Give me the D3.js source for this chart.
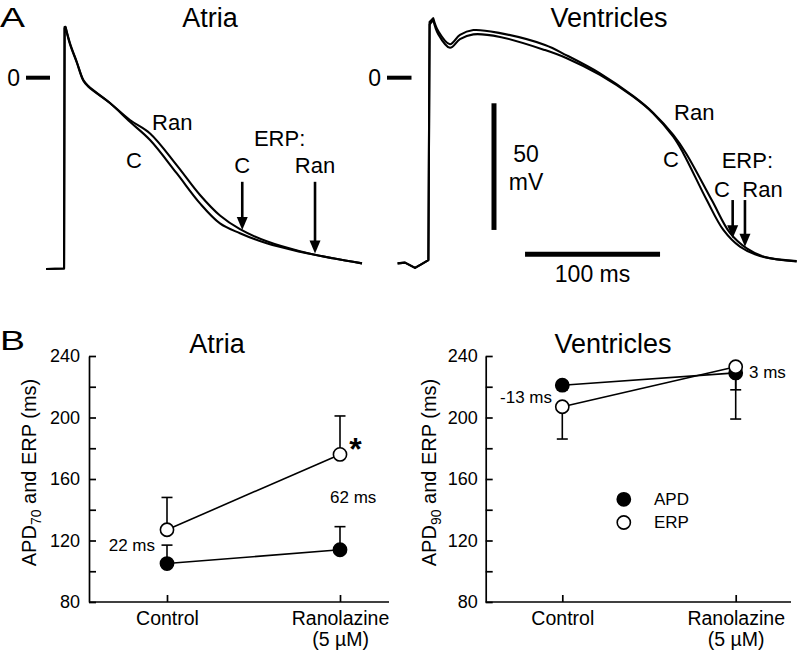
<!DOCTYPE html>
<html><head><meta charset="utf-8">
<script src="https://cdn.jsdelivr.net/npm/d3@7"></script>
<style>
body{margin:0;background:#fff}
svg{display:block;background:#fff}
text{font-family:"Liberation Sans",Arial,Helvetica,sans-serif;fill:#000}
</style>
</head><body>
<svg id="chart" width="800" height="652"></svg>
<script>
// ===== Panel A: action potential traces (time in ms from upstroke, voltage in mV) =====
const atriaCtrlT = [-14, -0.7, -0.3, 0.4, 3.7, 8.7, 13.6, 17.3, 33.3, 48.1, 63, 82.7, 100, 114.8, 129.6, 149.4, 174, 198.5, 220];
const atriaCtrlV = [-75.5, -75.3, 20, 20.1, 13.6, 6.3, -0.9, -3.3, -10, -17.4, -24.6, -37.7, -49.6, -57.5, -61.4, -65.4, -68.7, -71.3, -73.3];
const atriaRanT  = [-14, -0.7, -0.3, 0.4, 3.7, 8.7, 13.6, 17.3, 33.3, 48.1, 63, 82.7, 100, 114.8, 129.6, 149.4, 174, 198.5, 220];
const atriaRanV  = [-75.5, -75.3, 19.5, 19.8, 13.2, 6.0, -1.2, -3.6, -10, -16.7, -22.0, -34.5, -46.3, -54.4, -59.8, -64.6, -68.5, -71.3, -73.3];

const ventCtrlT = [-24, -18.5, -11.1, -5.9, -1.2, -0.3, 2.4, 6.1, 14.8, 22.2, 32.1, 51.9, 85.2, 101.3, 125.9, 150.6, 165.4, 180.2, 187.6, 205, 217.3, 229.6, 244.4, 271.6];
const ventCtrlV = [-73.3, -73, -75.1, -73.5, -72, 21, 22.8, 17.2, 11.8, 15.2, 17.1, 16.1, 10.9, 7.7, 1.1, -7.5, -14.1, -23.3, -29.8, -48.3, -60.1, -66.7, -70.4, -72.4];
const ventRanT  = [-24, -18.5, -11.1, -5.9, -1.2, -0.3, 2.4, 6.1, 14.8, 22.2, 32.1, 51.9, 85.2, 101.3, 125.9, 150.6, 165.4, 180.2, 189.6, 208.7, 222.2, 234.6, 248, 271.6];
const ventRanV  = [-73.3, -73, -75.1, -73.5, -72, 22, 23.5, 18.4, 13.2, 16.9, 18.8, 17.6, 12.9, 8.8, 1.7, -7.3, -13.9, -22.6, -29.8, -48.3, -61.3, -67.4, -70.8, -72.5];

// ERP arrows: [time ms, arrow tip mV]
const atriaErpArrows = [[131.3, -60.1], [185.2, -69.4]];
const ventErpArrows  = [[224.2, -63.4], [233.3, -66.7]];
const arrowTopV = {atria: -41.1, vent: -48.3};

// scale bars
const scaleBarMv = 50;
const scaleBarMs = 100;

// ===== Panel B: summary data =====
const categories = ["Control", "Ranolazine"];
const categoryLines = [["Control"], ["Ranolazine", "(5 µM)"]];
const yTicks = [80, 100, 120, 140, 160, 180, 200, 220, 240];
const yTickLabels = [80, 120, 160, 200, 240];

const atriaAPD = [105, 114];
const atriaAPDErr = [12, 15];     // positive = drawn upward
const atriaERP = [127, 176];
const atriaERPErr = [21, 25];

const ventAPD = [221, 229];
const ventAPDErr = [-3, -11];     // negative = drawn downward
const ventERP = [207, 233];
const ventERPErr = [-21, -34];

const atriaNotes = ["22 ms", "62 ms"];
const ventNotes = ["-13 ms", "3 ms"];

// ===================================================================
const svg = d3.select("#chart");
const FONT = '"Liberation Sans",Arial,Helvetica,sans-serif';

// ---------- Panel A ----------
const yAP = d3.scaleLinear().domain([0, -50]).range([77.7, 204.35]);
const xAtria = d3.scaleLinear().domain([0, 100]).range([65, 200]);
const xVent = d3.scaleLinear().domain([0, 100]).range([430, 565]);

function trace(xs, T, V) {
  const pts = T.map((t, i) => [t, V[i]]);
  const k = d3.maxIndex(V);                 // peak: upstroke drawn straight, repolarisation smooth
  const lin = d3.line().x(d => xs(d[0])).y(d => yAP(d[1]));
  const smooth = d3.line().x(d => xs(d[0])).y(d => yAP(d[1])).curve(d3.curveCatmullRom.alpha(0.5));
  const dStr = lin(pts.slice(0, k + 1)) + smooth(pts.slice(k)).replace(/^M/, "L");
  svg.append("path").attr("d", dStr).attr("fill", "none").attr("stroke", "#000")
    .attr("stroke-width", 2.1).attr("stroke-linejoin", "round");
}
trace(xAtria, atriaCtrlT, atriaCtrlV);
trace(xAtria, atriaRanT, atriaRanV);
trace(xVent, ventCtrlT, ventCtrlV);
trace(xVent, ventRanT, ventRanV);

function arrow(xs, t, vTop, vTip) {
  const x = xs(t), y0 = yAP(vTop), y1 = yAP(vTip);
  svg.append("line").attr("x1", x).attr("x2", x).attr("y1", y0).attr("y2", y1 - 8)
    .attr("stroke", "#000").attr("stroke-width", 2.6);
  svg.append("path").attr("d", `M${x - 5.5},${y1 - 13} L${x + 5.5},${y1 - 13} L${x},${y1} Z`).attr("fill", "#000");
}
atriaErpArrows.forEach(a => arrow(xAtria, a[0], arrowTopV.atria, a[1]));
ventErpArrows.forEach(a => arrow(xVent, a[0], arrowTopV.vent, a[1]));

// zero markers
function zeroMark(x1, x2, tx) {
  svg.append("line").attr("x1", x1).attr("x2", x2).attr("y1", yAP(0)).attr("y2", yAP(0))
    .attr("stroke", "#000").attr("stroke-width", 4);
  svg.append("text").attr("x", tx).attr("y", yAP(0)).attr("dy", "0.35em").attr("text-anchor", "end")
    .attr("font-size", 23).text("0");
}
zeroMark(26, 50, 20);
zeroMark(387, 411.5, 381);

// scale bars (drawn with ventricle scales)
const sbT = 47.4, sbTop = -10.1;
svg.append("line").attr("x1", xVent(sbT)).attr("x2", xVent(sbT))
  .attr("y1", yAP(sbTop)).attr("y2", yAP(sbTop - scaleBarMv))
  .attr("stroke", "#000").attr("stroke-width", 5);
const hbT = 70.4, hbV = -69.7;
svg.append("line").attr("x1", xVent(hbT)).attr("x2", xVent(hbT + scaleBarMs))
  .attr("y1", yAP(hbV)).attr("y2", yAP(hbV))
  .attr("stroke", "#000").attr("stroke-width", 5);

function txt(x, y, s, size, anchor) {
  return svg.append("text").attr("x", x).attr("y", y).attr("font-size", size)
    .attr("text-anchor", anchor || "start").text(s);
}
txt(xVent(sbT) + 32, 161.5, "50", 23, "middle");
txt(xVent(sbT) + 32, 190, "mV", 23, "middle");
txt(xVent(hbT + scaleBarMs / 2), 281.5, "100 ms", 23, "middle");

// trace labels
const labSize = 22;
txt(xAtria(65.2) - 1, yAP(-20.6), "Ran", labSize);
txt(xAtria(45.9) - 1, yAP(-35.6), "C", labSize);
txt(xAtria(140.7) - 1, yAP(-27), "ERP:", labSize);
txt(xAtria(131.3), yAP(-37.6), "C", labSize, "middle");
txt(xAtria(185.2), yAP(-37.6), "Ran", labSize, "middle");

txt(xVent(181.5) - 1, yAP(-16.7), "Ran", labSize);
txt(xVent(173.3) - 1, yAP(-35.1), "C", labSize);
txt(xVent(216.8) - 1, yAP(-35.8), "ERP:", labSize);
txt(xVent(211.1) - 1, yAP(-47), "C", labSize);
txt(xVent(232.1) - 1, yAP(-47), "Ran", labSize);

// titles & panel letters
txt(0, 26.7, "A", 27).attr("textLength", 25).attr("lengthAdjust", "spacingAndGlyphs");
txt(210, 26.7, "Atria", 27, "middle");
txt(609, 26.7, "Ventricles", 27, "middle");
txt(0, 350, "B", 27).attr("textLength", 25).attr("lengthAdjust", "spacingAndGlyphs");
txt(217, 352.7, "Atria", 27, "middle");
txt(613, 352.7, "Ventricles", 27, "middle");

// ---------- Panel B ----------
const yB = d3.scaleLinear().domain([80, 240]).range([602, 356]);

function summaryPanel(opt) {
  const xB = d3.scalePoint().domain(categories).range(opt.xr);
  const g = svg.append("g");

  // y axis
  const ya = g.append("g").attr("transform", `translate(${opt.axisX},0)`)
    .call(d3.axisLeft(yB).tickValues(yTicks).tickSize(-7).tickSizeOuter(0).tickPadding(opt.tp)
      .tickFormat(d => yTickLabels.includes(d) ? d : ""));
  ya.selectAll("path,line").attr("stroke", "#000").attr("stroke-width", 1.7);
  ya.selectAll("text").attr("font-size", 18).attr("font-family", FONT).attr("fill", "#000");

  // x axis
  const xa = g.append("g").attr("transform", `translate(0,${yB(80)})`)
    .call(d3.axisBottom(xB).tickSize(-7).tickSizeOuter(0).tickPadding(9));
  xa.select(".domain").remove();
  xa.selectAll("line").attr("stroke", "#000").attr("stroke-width", 1.7);
  xa.selectAll(".tick text").each(function (d, i) {
    const t = d3.select(this).text(null).attr("font-size", 19.5).attr("font-family", FONT).attr("fill", "#000");
    categoryLines[i].forEach((s, j) => {
      t.append("tspan").attr("x", 0).attr("dy", j === 0 ? "0.71em" : "1.1em").text(s);
    });
  });
  g.append("line").attr("x1", opt.axisX).attr("x2", opt.axisEnd).attr("y1", yB(80)).attr("y2", yB(80))
    .attr("stroke", "#000").attr("stroke-width", 1.7);

  // y label
  const yl = g.append("text").attr("transform", `translate(${opt.labX},472.5) rotate(-90)`)
    .attr("text-anchor", "middle").attr("font-size", 20);
  yl.append("tspan").text("APD");
  yl.append("tspan").attr("font-size", 14).attr("dy", 5).text(opt.sub);
  yl.append("tspan").attr("dy", -5).text(" and ERP (ms)");

  const lineGen = d3.line().x((d, i) => xB(categories[i])).y(d => yB(d));
  [opt.apd, opt.erp].forEach(arr => {
    g.append("path").attr("d", lineGen(arr)).attr("fill", "none").attr("stroke", "#000").attr("stroke-width", 1.6);
  });

  // error bars
  [[opt.apd, opt.apdErr], [opt.erp, opt.erpErr]].forEach(([vals, errs]) => {
    vals.forEach((v, i) => {
      const x = xB(categories[i]);
      g.append("line").attr("x1", x).attr("x2", x).attr("y1", yB(v)).attr("y2", yB(v + errs[i]))
        .attr("stroke", "#000").attr("stroke-width", 1.6);
      g.append("line").attr("x1", x - 5.5).attr("x2", x + 5.5).attr("y1", yB(v + errs[i])).attr("y2", yB(v + errs[i]))
        .attr("stroke", "#000").attr("stroke-width", 1.6);
    });
  });

  // points
  ["apd", "erp"].forEach(kind => {
    const vals = kind === "apd" ? opt.apd : opt.erp;
    vals.forEach((v, i) => {
      g.append("circle").attr("cx", xB(categories[i])).attr("cy", yB(v)).attr("r", 6.6)
        .attr("fill", kind === "apd" ? "#000" : "#fff").attr("stroke", "#000").attr("stroke-width", 1.6);
    });
  });
  return g;
}

summaryPanel({xr: [167, 340], axisX: 89, axisEnd: 389, tp: 9, labX: 36, sub: "70",
  apd: atriaAPD, apdErr: atriaAPDErr, erp: atriaERP, erpErr: atriaERPErr});
summaryPanel({xr: [562.3, 735.7], axisX: 485.7, axisEnd: 791, tp: 8, labX: 436, sub: "90",
  apd: ventAPD, apdErr: ventAPDErr, erp: ventERP, erpErr: ventERPErr});

// annotations
const noteSize = 17;
txt(155, 550.5, atriaNotes[0], noteSize, "end");
txt(330, 503.3, atriaNotes[1], noteSize);
svg.append("text").attr("x", 355.5).attr("y", 459.5).attr("text-anchor", "middle")
  .attr("font-size", 32).attr("font-weight", "bold").text("*");
txt(552, 402.7, ventNotes[0], noteSize, "end");
txt(749, 378.3, ventNotes[1], noteSize);

// legend
svg.append("circle").attr("cx", 623.8).attr("cy", 499.3).attr("r", 6.6).attr("fill", "#000").attr("stroke", "#000").attr("stroke-width", 1.6);
svg.append("circle").attr("cx", 623.8).attr("cy", 522.5).attr("r", 6.6).attr("fill", "#fff").attr("stroke", "#000").attr("stroke-width", 1.6);
txt(654, 505.2, "APD", 17);
txt(654, 528.4, "ERP", 17);
</script>
</body></html>
